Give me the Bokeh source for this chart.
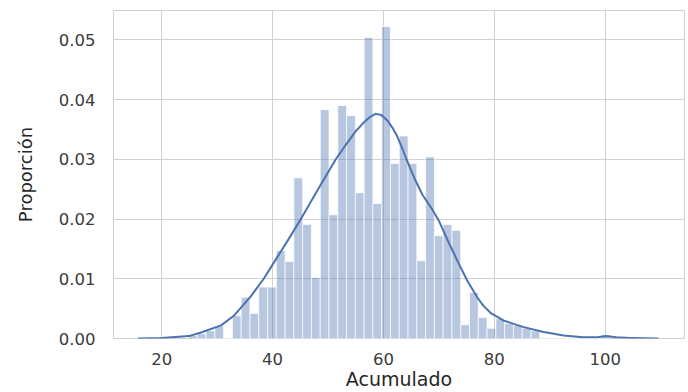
from bokeh.plotting import figure
from bokeh.models import ColumnDataSource, FixedTicker, NumeralTickFormatter, Range1d
from bokeh.embed import file_html
from bokeh.resources import INLINE
import numpy as np

# ---- data ----
bin_start = 24.83
bin_width = 1.584
bar_heights = [0.0005, 0.0008, 0.0013, 0.0021, 0.0, 0.0038, 0.0069, 0.0042, 0.0086, 0.0086,
               0.0147, 0.0129, 0.0269, 0.0191, 0.0102, 0.0383, 0.0207, 0.0390, 0.0373, 0.0244,
               0.0504, 0.0226, 0.0522, 0.0293, 0.0339, 0.0293, 0.0130, 0.0304, 0.0172, 0.0191,
               0.0181, 0.0023, 0.0077, 0.0035, 0.0017, 0.0033, 0.0025, 0.0022, 0.0017, 0.0013,
               0.0, 0.0, 0.0, 0.0, 0.0, 0.0, 0.0, 0.0006]

kde_x = [15.7, 20.0, 24.9, 27.1, 30.7, 33.0, 36.1, 38.4, 40.9, 43.0, 45.1, 48.2, 51.4, 53.5,
         55.0, 56.5, 57.6, 58.6, 59.6, 60.7, 61.6, 62.5, 63.4, 64.2, 64.9, 65.8, 67.0, 68.8,
         70.0, 71.8, 73.6, 75.1, 76.9, 78.0, 79.3, 81.7, 85.3, 88.9, 92.5, 96.0, 98.6, 100.1,
         102.0, 104.5, 109.6]
kde_y = [0.0, 0.0001, 0.0004, 0.0010, 0.0022, 0.0038, 0.0071, 0.0100, 0.0137, 0.0168, 0.0200,
         0.0250, 0.0300, 0.0328, 0.0347, 0.0362, 0.0371, 0.0376, 0.0374, 0.0365, 0.0353, 0.0338,
         0.0318, 0.0299, 0.0283, 0.0264, 0.0241, 0.0216, 0.0197, 0.0160, 0.0125, 0.0097, 0.0069,
         0.0055, 0.0043, 0.0030, 0.0019, 0.0011, 0.0005, 0.0002, 0.0002, 0.0004, 0.0002, 0.0001,
         0.0]

x_ticks = [20, 40, 60, 80, 100]
y_ticks = [0.0, 0.01, 0.02, 0.03, 0.04, 0.05]
x_label = "Acumulado"
y_label = "Proporción"

# ---- build ----
n = len(bar_heights)
lefts = bin_start + bin_width * np.arange(n)
bars = ColumnDataSource(dict(left=lefts, right=lefts + bin_width,
                             top=bar_heights, bottom=[0.0] * n))
kde = ColumnDataSource(dict(x=kde_x, y=kde_y))

p = figure(width=688, height=392, output_backend="svg", toolbar_location=None,
           x_range=Range1d(11.3, 114.3), y_range=Range1d(0, 0.0549),
           min_border_left=113, min_border_right=4, min_border_top=10, min_border_bottom=54)

p.quad(left="left", right="right", top="top", bottom="bottom", source=bars,
       fill_color="#4C72B0", fill_alpha=0.4, line_color="white", line_width=0.8, line_alpha=0.9)
p.line("x", "y", source=kde, line_color="#4C72B0", line_width=2, line_join="round")

p.background_fill_color = "white"
p.border_fill_color = "white"
p.outline_line_color = "#d0d0d0"
p.outline_line_width = 1

for g in (p.xgrid, p.ygrid):
    g.grid_line_color = "#d0d0d0"
    g.grid_line_width = 1
p.xgrid.ticker = FixedTicker(ticks=x_ticks)
p.ygrid.ticker = FixedTicker(ticks=y_ticks)

p.xaxis.ticker = FixedTicker(ticks=x_ticks)
p.yaxis.ticker = FixedTicker(ticks=y_ticks)
p.yaxis.formatter = NumeralTickFormatter(format="0.00")

for ax in (p.xaxis[0], p.yaxis[0]):
    ax.axis_line_color = None
    ax.major_tick_line_color = None
    ax.minor_tick_line_color = None
    ax.major_tick_out = 0
    ax.major_tick_in = 0
    ax.major_label_text_font = "DejaVu Sans"
    ax.major_label_text_font_size = "16.5px"
    ax.major_label_text_color = "#3a3a3a"
    ax.axis_label_text_font = "DejaVu Sans"
    ax.axis_label_text_font_style = "normal"
    ax.axis_label_text_color = "#262626"

p.xaxis.axis_label = x_label
p.yaxis.axis_label = y_label
p.xaxis.major_label_standoff = 14
p.xaxis.axis_label_standoff = 0
p.xaxis.axis_label_text_font_size = "19px"
p.yaxis.major_label_standoff = 18
p.yaxis.axis_label_standoff = 20
p.yaxis.axis_label_text_font_size = "18px"

open("out.html", "w").write(file_html(p, INLINE))
